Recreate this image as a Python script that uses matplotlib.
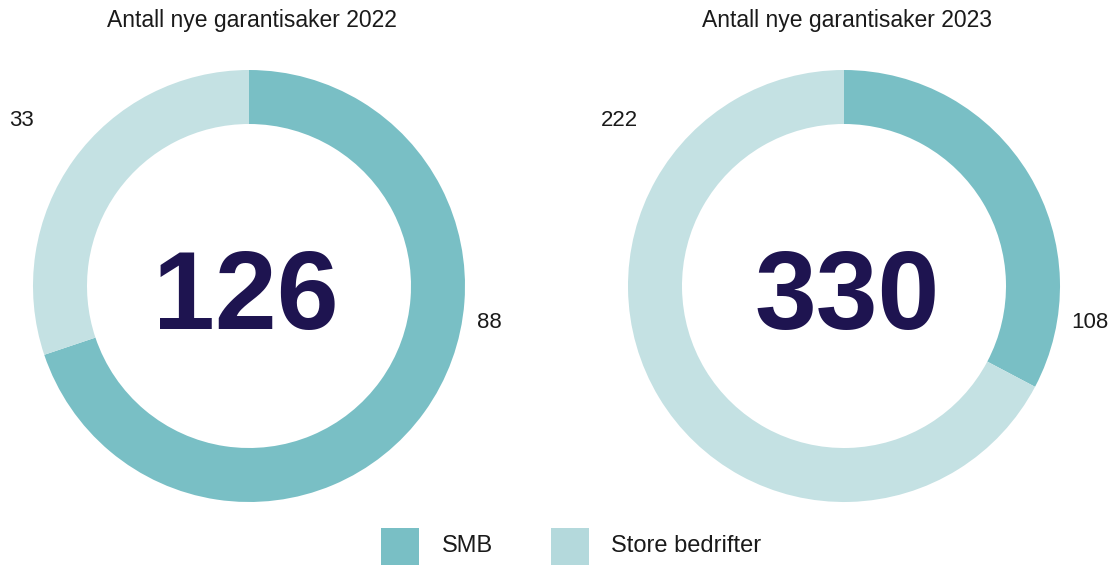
import matplotlib
matplotlib.use("Agg")
import matplotlib.pyplot as plt
from matplotlib.patches import Rectangle

# Data
years = ["2022", "2023"]
titles = ["Antall nye garantisaker 2022", "Antall nye garantisaker 2023"]
totals = [126, 330]
smb = [88, 108]
store = [33, 222]
legend_labels = ["SMB", "Store bedrifter"]

c_smb = "#79BFC5"
c_store = "#C4E1E3"
c_store_leg = "#B4D9DC"
c_center = "#1E1450"
c_text = "#1a1a1a"

plt.rcParams['font.family'] = ['Liberation Sans', 'DejaVu Sans']

W, H = 1115, 565
fig = plt.figure(figsize=(W / 100, H / 100), dpi=100)
ax = fig.add_axes([0, 0, 1, 1])

def Y(y):
    return H - y

centers_x = [249, 844]
num_dx = [-3, 3]
cy = 286
R = 216
width = 54

for i in range(2):
    cx = centers_x[i]
    # drawn proportions follow the published total (SMB vs. remainder)
    vals = [smb[i], totals[i] - smb[i]]
    ax.pie(vals, colors=[c_smb, c_store], startangle=90, counterclock=False,
           radius=R, center=(cx, Y(cy)), frame=True,
           wedgeprops=dict(width=width, edgecolor='none', linewidth=0))
    ax.text(cx + 3, Y(20), titles[i], ha='center', va='center', fontsize=16.5, color=c_text)
    ax.text(cx + num_dx[i], Y(329), str(totals[i]), ha='center', va='baseline', fontsize=80,
            fontweight='bold', color=c_center)

ax.set_xlim(0, W)
ax.set_ylim(0, H)
ax.set_aspect('equal')
ax.axis('off')

# value labels
ax.text(9, Y(120), str(store[0]), ha='left', va='center', fontsize=16, color=c_text)
ax.text(477, Y(322), str(smb[0]), ha='left', va='center', fontsize=16, color=c_text)
ax.text(601, Y(120), str(store[1]), ha='left', va='center', fontsize=16, color=c_text)
ax.text(1071, Y(322), str(smb[1]), ha='left', va='center', fontsize=16, color=c_text)

# legend
ax.add_patch(Rectangle((381, Y(565)), 38, 37, facecolor=c_smb, edgecolor='none'))
ax.text(442, Y(546), legend_labels[0], ha='left', va='center', fontsize=17, color=c_text)
ax.add_patch(Rectangle((551, Y(565)), 38, 37, facecolor=c_store_leg, edgecolor='none'))
ax.text(611, Y(546), legend_labels[1], ha='left', va='center', fontsize=17, color=c_text)

fig.savefig("out.png", dpi=100)
